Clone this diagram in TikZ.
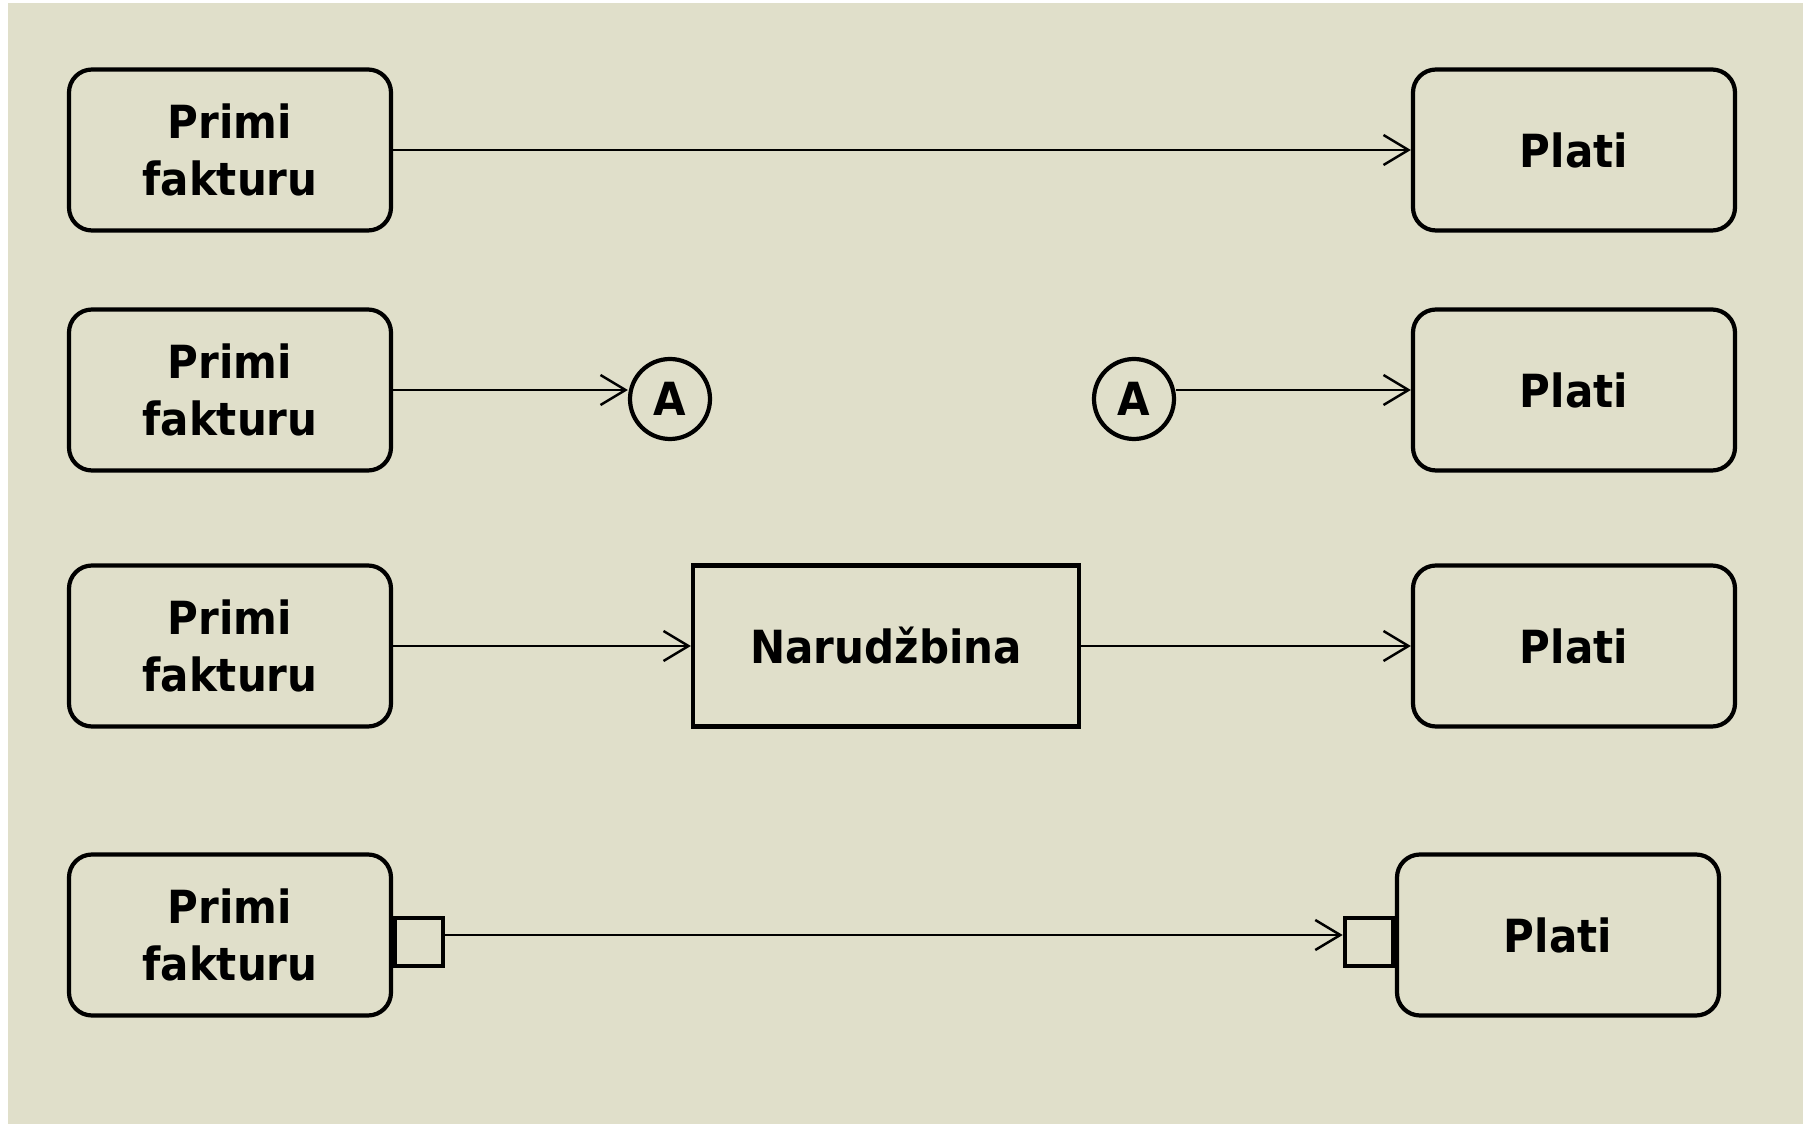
\documentclass[tikz,border=0pt]{standalone}
\usepackage{fontspec}
\setmainfont{DejaVu Sans}[FakeStretch=0.92]
\usetikzlibrary{arrows.meta}
\definecolor{slidebg}{RGB}{224,223,202}

\begin{document}
\begin{tikzpicture}[
        boxfont/.style={font=\bfseries\fontsize{13}{16}\selectfont},
        task/.style={draw, boxfont, rounded corners=0.23cm, line width=1.2pt,
            minimum width=3.22cm, minimum height=1.61cm, align=center},
        object/.style={draw, boxfont, line width=1.2pt,
            minimum width=3.86cm, minimum height=1.61cm},
        link/.style={circle, draw, boxfont, line width=1.2pt, inner sep=0pt,
            minimum size=0.80cm},
        pinbox/.style={draw, line width=1.2pt, minimum size=0.48cm, inner sep=0pt},
        flow/.style={line width=0.7pt, -{Straight Barb[length=2.5mm,width=3mm]}}
    ]
    % the frame
    \fill[white] (0,0) rectangle (18.03,11.28);
    \useasboundingbox (0,0) rectangle (18.03,11.28);
    \fill[slidebg] (0.08,0.04) rectangle (18.03,11.25);

    % plain flow
    \node[task] (pf1) at (2.30,9.78) {Primi\\fakturu};
    \node[task] (pl1) at (15.74,9.78) {Plati};
    \draw[flow] (pf1) -- (pl1);

    % connectors
    \node[task] (pf2) at (2.30,7.38) {Primi\\fakturu};
    \node[link] (a1) at (6.70,7.29) {A};
    \node[link] (a2) at (11.34,7.29) {A};
    \node[task] (pl2) at (15.74,7.38) {Plati};
    \draw[flow] (pf2.east) -- (pf2.east -| a1.west);
    \draw[flow] (a2.east |- pl2.west) -- (pl2.west);

    % object in between
    \node[task] (pf3) at (2.30,4.82) {Primi\\fakturu};
    \node[object] (nar) at (8.86,4.82) {Narudžbina};
    \node[task] (pl3) at (15.74,4.82) {Plati};
    \draw[flow] (pf3) -- (nar);
    \draw[flow] (nar) -- (pl3);

    % pins
    \node[task] (pf4) at (2.30,1.93) {Primi\\fakturu};
    \node[task] (pl4) at (15.58,1.93) {Plati};
    \node[pinbox, anchor=west] (pinL) at ([yshift=-0.07cm]pf4.east) {};
    \node[pinbox, anchor=east] (pinR) at ([yshift=-0.07cm]pl4.west) {};
    \draw[flow] (pinL.east |- pf4.east) -- (pinR.west |- pf4.east);
\end{tikzpicture}
\end{document}
